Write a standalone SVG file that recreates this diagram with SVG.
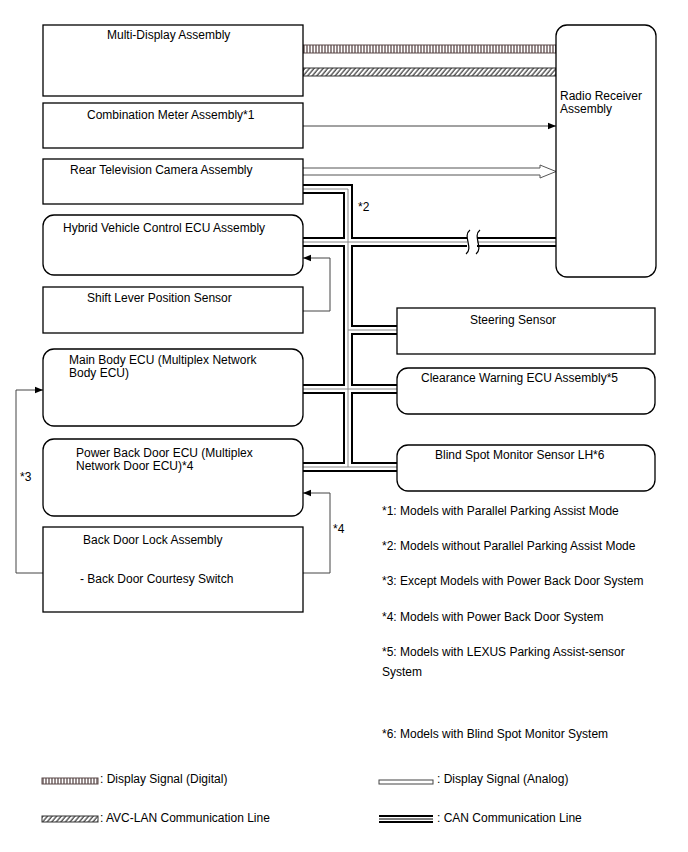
<svg xmlns="http://www.w3.org/2000/svg" width="688" height="852" viewBox="0 0 688 852">
<style>
text{font-family:"Liberation Sans",Arial,sans-serif;font-size:12px;fill:#000}
.box{fill:#fff;stroke:#000;stroke-width:1.3}
.ln{fill:none;stroke:#444;stroke-width:1}
.canO{fill:none;stroke:#000;stroke-width:10}
.canW{fill:none;stroke:#fff;stroke-width:6}
.canC{fill:none;stroke:#888;stroke-width:1}
</style>
<defs>
<pattern id="dig" width="3" height="8" patternUnits="userSpaceOnUse"><rect width="3" height="8" fill="#fff"/><line x1="1" y1="0" x2="1" y2="8" stroke="#5b4848" stroke-width="1.3"/></pattern>
<pattern id="avc" width="3.5" height="3.5" patternUnits="userSpaceOnUse" patternTransform="rotate(40)"><rect width="3.5" height="3.5" fill="#fff"/><line x1="1" y1="0" x2="1" y2="3.5" stroke="#333" stroke-width="1.2"/></pattern>
<marker id="arr" viewBox="0 0 10 10" refX="10" refY="5" markerWidth="10" markerHeight="8" markerUnits="userSpaceOnUse" orient="auto"><path d="M0,1 L10,5 L0,9 Z" fill="#000"/></marker>
</defs>

<g id="connectors">
  <rect x="303" y="45" width="253" height="8" fill="url(#dig)" stroke="#5b4848" stroke-width="1"/>
  <rect x="303" y="68" width="253" height="8" fill="url(#avc)" stroke="#333" stroke-width="1"/>
  <line class="ln" x1="303" y1="126" x2="556" y2="126" marker-end="url(#arr)"/>
  <path d="M303,168 H540 V165 L556,171.5 L540,178 V175 H303" fill="#fff" stroke="#555" stroke-width="1"/>
  <g>
    <path class="canO" d="M303,189 H348 V467 M303,242 H467 M477,242 H556 M348,330 H397 M303,389 H397 M303,467 H397" stroke-linejoin="miter"/>
    <path class="canW" d="M303,189 H348 V467 M303,242 H467 M477,242 H556 M348,330 H397 M303,389 H397 M303,467 H397" stroke-linejoin="miter"/>
    <path class="canC" d="M303,189 H348 V467 M303,242 H467 M477,242 H556 M348,330 H397 M303,389 H397 M303,467 H397"/>
    <rect x="467" y="230" width="10" height="24" fill="#fff"/>
    <path d="M470,230 C462,236 474,248 466,254 M480,230 C472,236 484,248 476,254" fill="none" stroke="#000" stroke-width="1.2"/>
  </g>
  <path class="ln" d="M303,311 H330 V258 H303" marker-end="url(#arr)"/>
  <path class="ln" d="M43,573 H16 V390 H43" marker-end="url(#arr)"/>
  <path class="ln" d="M303,573 H330 V493 H303" marker-end="url(#arr)"/>
  <text x="358" y="211">*2</text>
  <text x="20" y="481">*3</text>
  <text x="333" y="533">*4</text>
</g>

<g id="multi-display">
  <rect class="box" x="43" y="25" width="260" height="71"/>
  <text x="107" y="39">Multi-Display Assembly</text>
</g>
<g id="combination-meter">
  <rect class="box" x="43" y="103" width="260" height="45"/>
  <text x="87" y="119">Combination Meter Assembly*1</text>
</g>
<g id="rear-camera">
  <rect class="box" x="43" y="159" width="260" height="45"/>
  <text x="70" y="174">Rear Television Camera Assembly</text>
</g>
<g id="hv-ecu">
  <rect class="box" x="43" y="215" width="260" height="60" rx="11"/>
  <text x="63" y="232">Hybrid Vehicle Control ECU Assembly</text>
</g>
<g id="shift-lever">
  <rect class="box" x="43" y="287" width="260" height="46"/>
  <text x="87" y="302">Shift Lever Position Sensor</text>
</g>
<g id="main-body-ecu">
  <rect class="box" x="43" y="349" width="260" height="77" rx="11"/>
  <text x="69" y="364">Main Body ECU (Multiplex Network</text>
  <text x="69" y="377">Body ECU)</text>
</g>
<g id="power-back-door-ecu">
  <rect class="box" x="43" y="439" width="260" height="77" rx="11"/>
  <text x="76" y="457">Power Back Door ECU (Multiplex</text>
  <text x="76" y="470">Network Door ECU)*4</text>
</g>
<g id="back-door-lock">
  <rect class="box" x="43" y="527" width="260" height="85"/>
  <text x="83" y="544">Back Door Lock Assembly</text>
  <text x="80" y="583">- Back Door Courtesy Switch</text>
</g>
<g id="radio-receiver">
  <rect class="box" x="556" y="25" width="100" height="252" rx="11"/>
  <text x="560" y="100">Radio Receiver</text>
  <text x="560" y="113">Assembly</text>
</g>
<g id="steering-sensor">
  <rect class="box" x="397" y="308" width="258" height="46"/>
  <text x="470" y="324">Steering Sensor</text>
</g>
<g id="clearance-warning">
  <rect class="box" x="397" y="368" width="258" height="46" rx="11"/>
  <text x="421" y="382">Clearance Warning ECU Assembly*5</text>
</g>
<g id="blind-spot">
  <rect class="box" x="397" y="445" width="258" height="46" rx="11"/>
  <text x="435" y="459">Blind Spot Monitor Sensor LH*6</text>
</g>

<g id="notes">
  <text x="382" y="515">*1: Models with Parallel Parking Assist Mode</text>
  <text x="382" y="550">*2: Models without Parallel Parking Assist Mode</text>
  <text x="382" y="585">*3: Except Models with Power Back Door System</text>
  <text x="382" y="621">*4: Models with Power Back Door System</text>
  <text x="382" y="656">*5: Models with LEXUS Parking Assist-sensor</text>
  <text x="382" y="676">System</text>
  <text x="382" y="738">*6: Models with Blind Spot Monitor System</text>
</g>

<g id="legend">
  <rect x="42" y="778" width="56" height="6" fill="url(#dig)" stroke="#5b4848" stroke-width="1"/>
  <text x="100" y="783">: Display Signal (Digital)</text>
  <rect x="42" y="816" width="56" height="6" fill="url(#avc)" stroke="#333" stroke-width="1"/>
  <text x="100" y="822">: AVC-LAN Communication Line</text>
  <rect x="379" y="780" width="54" height="4" fill="#fff" stroke="#444" stroke-width="1"/>
  <text x="437" y="783">: Display Signal (Analog)</text>
  <path d="M379,819 H433" stroke="#000" stroke-width="8" fill="none"/>
  <path d="M379,819 H433" stroke="#fff" stroke-width="4" fill="none"/>
  <path d="M379,819 H433" stroke="#000" stroke-width="1" fill="none"/>
  <text x="437" y="822">: CAN Communication Line</text>
</g>
</svg>
